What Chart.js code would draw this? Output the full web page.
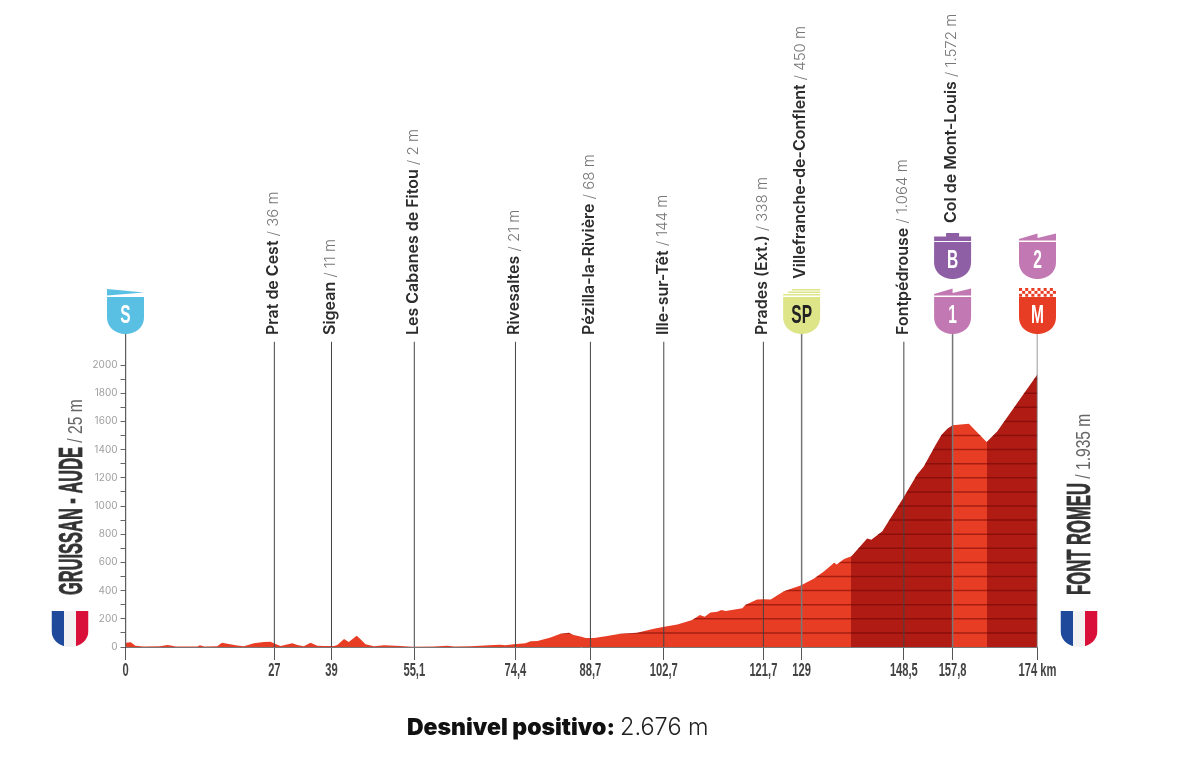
<!DOCTYPE html>
<html>
<head>
<meta charset="utf-8">
<title>Perfil de etapa</title>
<script src="https://cdn.jsdelivr.net/npm/chart.js@4"></script>
<style>
  html, body { margin: 0; background: #fff; }
  canvas { display: block; }
</style>
</head>
<body>
<canvas id="profileChart" width="1180" height="767"></canvas>
<script>
// Profile
const profileKm = [0, 1, 1.9, 3.5, 6.6, 8, 8.9, 9.6, 13.7, 14.2, 15, 17.5, 18.4, 19.7, 21.3, 22.6, 24.5, 26.4, 27.7, 28.6, 29.6, 31.8, 32.8, 34, 35.3, 36.6, 37.9, 39.8, 40.4, 41.7, 42.6, 44.1, 44.8, 45.8, 47.4, 49.3, 52.5, 54.7, 58.8, 61.4, 62.7, 65.8, 70.3, 71.5, 72.5, 74.1, 76.3, 77.3, 78.6, 81.1, 83, 84.6, 85.5, 86.8, 87.8, 89.4, 91.9, 94.4, 97.6, 100.8, 102.8, 105.3, 108.1, 109.6, 110.5, 111.6, 112.9, 113.7, 114.5, 117.7, 118.3, 120.5, 121.8, 123.1, 125.6, 128.8, 131.3, 133.3, 135.2, 135.7, 137.1, 138.5, 141.5, 142.3, 144.4, 146, 148.5, 151, 152.3, 154.5, 155.7, 156.8, 157.8, 160.9, 164.3, 166.3, 174];
const profileM = [30, 33, 9, 3, 6, 14, 8, 3, 4, 12, 4, 6, 30, 22, 10, 5, 26, 35, 38, 22, 7, 26, 14, 5, 30, 9, 7, 7, 14, 57, 36, 80, 57, 19, 5, 12, 7, 2, 3, 8, 3, 5, 14, 16, 12, 20, 26, 40, 42, 68, 94, 101, 85, 75, 64, 64, 78, 94, 101, 130, 144, 160, 191, 227, 215, 245, 250, 262, 255, 274, 300, 337, 338, 337, 396, 437, 484, 538, 597, 585, 625, 644, 769, 760, 821, 916, 1064, 1222, 1281, 1430, 1506, 1548, 1572, 1584, 1454, 1529, 1935];

// Steep stretches of the road
const steepFrom = [138.5, 164.3];
const steepTo = [157.8, 174];

// Stops along the route
const stopKm = [0, 28.4, 39.3, 55.1, 74.4, 88.7, 102.7, 121.7, 129, 148.5, 157.8, 174];
const stopTicks = ['0', '27', '39', '55,1', '74,4', '88,7', '102,7', '121,7', '129', '148,5', '157,8', '174 km'];
const stopNames = ['', 'Prat de Cest', 'Sigean', 'Les Cabanes de Fitou', 'Rivesaltes', 'Pézilla-la-Rivière', 'Ille-sur-Têt', 'Prades (Ext.)', 'Villefranche-de-Conflent', 'Fontpédrouse', 'Col de Mont-Louis', ''];
const stopHeights = ['', '36 m', '11 m', '2 m', '21 m', '68 m', '144 m', '338 m', '450 m', '1.064 m', '1.572 m', ''];
const stopBadges = [['S'], [], [], [], [], [], [], [], ['SP'], [], ['1', 'B'], ['M', '2']];

const startName = 'GRUISSAN - AUDE';
const startHeight = '25 m';
const finishName = 'FONT ROMEU';
const finishHeight = '1.935 m';
const climbLabel = 'Desnivel positivo:';
const climbValue = '2.676 m';

const RED = '#e83d25';
const DARK_RED = '#b01c14';
const NARROW = '"Liberation Sans", sans-serif';

// Hard colour stops across the x scale, so no seam shows between the stretches
function profileFill(context) {
  const { chart } = context;
  const x = chart.scales.x;
  if (!chart.chartArea || !x) return RED;
  const gradient = chart.ctx.createLinearGradient(x.left, 0, x.right, 0);
  gradient.addColorStop(0, RED);
  steepFrom.forEach((from, i) => {
    gradient.addColorStop(from / x.max, RED);
    gradient.addColorStop(from / x.max, DARK_RED);
    gradient.addColorStop(steepTo[i] / x.max, DARK_RED);
    if (steepTo[i] < x.max) gradient.addColorStop(steepTo[i] / x.max, RED);
  });
  return gradient;
}

// Text squeezed along its run, none of the fonts here are condensed
function squeezed(ctx, text, x, y, squeeze, outline) {
  ctx.save();
  ctx.translate(x, y);
  ctx.scale(squeeze, 1);
  ctx.fillText(text, 0, 0);
  if (outline) {
    ctx.strokeStyle = ctx.fillStyle;
    ctx.lineWidth = outline;
    ctx.strokeText(text, 0, 0);
  }
  ctx.restore();
  return ctx.measureText(text).width * squeeze;
}

function stopLabel(ctx, x, y, name, height) {
  ctx.save();
  ctx.translate(x, y);
  ctx.rotate(-Math.PI / 2);
  ctx.textBaseline = 'middle';
  ctx.textAlign = 'left';
  ctx.font = '600 16px Inter';
  ctx.fillStyle = '#2b2b2b';
  ctx.fillText(name, 0, 0);
  const w = ctx.measureText(name).width;
  ctx.font = '300 15px Inter';
  ctx.fillStyle = '#777';
  ctx.fillText(' / ' + height, w, 0);
  ctx.restore();
}

function sideLabel(ctx, x, y, name, nameLength, height) {
  ctx.save();
  ctx.translate(x, y);
  ctx.rotate(-Math.PI / 2);
  ctx.textBaseline = 'alphabetic';
  ctx.textAlign = 'left';
  ctx.font = 'bold 33px ' + NARROW;
  ctx.fillStyle = '#333';
  squeezed(ctx, name, 0, 0, nameLength / ctx.measureText(name).width, 0.8);
  ctx.font = '20px ' + NARROW;
  ctx.fillStyle = '#666';
  squeezed(ctx, ' / ' + height, nameLength, 0, 0.78);
  ctx.restore();
}

function shieldPath(ctx, cx, top, bottom) {
  const half = 18.5;
  const side = bottom - 17;
  ctx.beginPath();
  ctx.moveTo(cx - half, top);
  ctx.lineTo(cx + half, top);
  ctx.lineTo(cx + half, side);
  ctx.bezierCurveTo(cx + half, bottom - 5, cx + 8, bottom, cx, bottom);
  ctx.bezierCurveTo(cx - 8, bottom, cx - half, bottom - 5, cx - half, side);
  ctx.closePath();
}

function flag(ctx, cx, bottom) {
  const top = bottom - 36;
  ctx.save();
  shieldPath(ctx, cx, top, bottom);
  ctx.clip();
  ctx.fillStyle = '#1f4a9c';
  ctx.fillRect(cx - 18.5, top, 12.5, 36);
  ctx.fillStyle = '#f2f2f2';
  ctx.fillRect(cx - 6, top, 12, 36);
  ctx.fillStyle = '#d8103a';
  ctx.fillRect(cx + 6, top, 12.5, 36);
  ctx.restore();
}

const badgeColors = { S: '#59bfe3', SP: '#dde588', B: '#8f5fa5', 1: '#c279b3', 2: '#c279b3', M: RED };

function badge(ctx, cx, bottom, kind) {
  const color = badgeColors[kind];
  const top = bottom - 37;
  const L = cx - 18.5, R = cx + 18.5;
  ctx.fillStyle = color;
  shieldPath(ctx, cx, top, bottom);
  ctx.fill();

  if (kind === 'S') {
    ctx.beginPath();
    ctx.moveTo(L, bottom - 45);
    ctx.lineTo(R, bottom - 41.5);
    ctx.lineTo(L, bottom - 38.5);
    ctx.closePath();
    ctx.fill();
  } else if (kind === 'SP') {
    ctx.fillRect(L + 9, bottom - 45, 28, 1.5);
    ctx.fillRect(L + 5, bottom - 42.5, 32, 1.5);
    ctx.fillRect(L, bottom - 40, 37, 1.5);
  } else if (kind === 'B') {
    ctx.fillRect(cx - 6.5, bottom - 46, 13, 4);
    ctx.fillRect(L, bottom - 42.5, 37, 4.5);
  } else if (kind === 'M') {
    for (let row = 0; row < 3; row++) {
      for (let col = 0; col < 12; col++) {
        if ((row + col) % 2 === 0) ctx.fillRect(L + col * 3.08, bottom - 46 + row * 2.9, 3.08, 2.9);
      }
    }
  } else {
    ctx.beginPath();
    ctx.moveTo(L, bottom - 38.5);
    ctx.lineTo(L, bottom - 40);
    ctx.lineTo(cx, bottom - 45.5);
    ctx.lineTo(cx, bottom - 41);
    ctx.lineTo(R, bottom - 45.5);
    ctx.lineTo(R, bottom - 38.5);
    ctx.closePath();
    ctx.fill();
  }

  ctx.font = 'bold 25px ' + NARROW;
  ctx.fillStyle = kind === 'SP' ? '#222' : '#fff';
  ctx.textBaseline = 'middle';
  ctx.textAlign = 'center';
  squeezed(ctx, kind, cx, bottom - 18, 0.62);
}

// Darker height lines every 100 m, only inside the filled profile
const heightLines = {
  id: 'heightLines',
  afterDatasetDraw(chart, args) {
    if (args.index !== 0) return;
    const { ctx, scales: { x, y } } = chart;
    const points = args.meta.data;
    ctx.save();
    ctx.beginPath();
    ctx.moveTo(points[0].x, y.getPixelForValue(0));
    points.forEach(p => ctx.lineTo(p.x, p.y));
    ctx.lineTo(points[points.length - 1].x, y.getPixelForValue(0));
    ctx.closePath();
    ctx.clip();
    ctx.strokeStyle = 'rgba(100, 0, 0, 0.5)';
    ctx.lineWidth = 1.5;
    for (let m = 100; m <= 2000; m += 100) {
      ctx.beginPath();
      ctx.moveTo(x.left, y.getPixelForValue(m));
      ctx.lineTo(x.right, y.getPixelForValue(m));
      ctx.stroke();
    }
    ctx.restore();
  }
};

const decorations = {
  id: 'decorations',
  afterDraw(chart) {
    const { ctx, scales: { x } } = chart;
    ctx.save();

    // x tick labels come from the scale but are drawn condensed
    ctx.font = 'bold 18px ' + NARROW;
    ctx.fillStyle = '#444';
    ctx.textAlign = 'center';
    ctx.textBaseline = 'middle';
    x.ticks.forEach((tick, i) => {
      squeezed(ctx, tick.label, x.getPixelForTick(i), 671, 0.62);
    });

    stopKm.forEach((km, i) => {
      const px = x.getPixelForValue(km);
      const badges = stopBadges[i];
      badges.forEach((kind, row) => badge(ctx, px, 334 - row * 55, kind));
      if (stopNames[i]) stopLabel(ctx, px - 1, 335 - badges.length * 56, stopNames[i], stopHeights[i]);
    });
    sideLabel(ctx, 82, 595, startName, 148, startHeight);
    sideLabel(ctx, 1090, 595, finishName, 112, finishHeight);
    flag(ctx, 70, 647);
    flag(ctx, 1079, 647);

    ctx.textBaseline = 'alphabetic';
    ctx.textAlign = 'left';
    ctx.font = '900 23px Inter';
    ctx.fillStyle = '#111';
    ctx.fillText(climbLabel, 407, 735);
    ctx.font = '300 23.5px Inter';
    ctx.fillStyle = '#222';
    ctx.fillText(climbValue, 620, 735);
    ctx.restore();
  }
};

// One thin line per stop, taller where a badge sits on it
const stemDatasets = stopKm.map((km, i) => ({
  type: 'line',
  data: [{ x: km, y: 0 }, { x: km, y: stopBadges[i].length ? 2220 : 2165 }],
  borderColor: stopBadges[i].length ? '#777' : '#444',
  borderWidth: stopBadges[i].length ? 1.5 : 1,
  pointRadius: 0,
  fill: false,
  order: 0
}));

new Chart(document.getElementById('profileChart'), {
  type: 'line',
  data: {
    datasets: [{
      label: 'Altitud',
      data: profileKm.map((km, i) => ({ x: km, y: profileM[i] })),
      backgroundColor: profileFill,
      borderWidth: 0,
      pointRadius: 0,
      tension: 0,
      fill: 'origin',
      order: 1
    }, ...stemDatasets]
  },
  options: {
    responsive: false,
    animation: false,
    layout: { padding: { left: 75.5, right: 142.5, top: 334, bottom: 60 } },
    plugins: { legend: { display: false }, tooltip: { enabled: false } },
    scales: {
      x: {
        type: 'linear',
        min: 0,
        max: 174,
        afterFit: s => { s.height = 60; },
        afterBuildTicks: s => { s.ticks = stopKm.map(value => ({ value })); },
        border: { color: '#777', width: 1 },
        grid: { drawOnChartArea: false, color: '#555', tickLength: 13 },
        ticks: {
          display: false,
          autoSkip: false,
          maxRotation: 0,
          callback: value => stopTicks[stopKm.indexOf(value)]
        }
      },
      y: {
        min: 0,
        max: 2220,
        afterFit: s => { s.width = 50; },
        afterBuildTicks: s => {
          const ticks = [];
          for (let m = 0; m <= 2000; m += 100) ticks.push({ value: m });
          s.ticks = ticks;
        },
        border: { color: '#444', width: 1 },
        grid: { drawOnChartArea: false, color: '#666', tickLength: 5 },
        ticks: {
          autoSkip: false,
          padding: 3,
          color: '#a0a0a0',
          font: { family: 'Inter', size: 10 },
          callback: value => (value % 200 === 0 ? value : '')
        }
      }
    }
  },
  plugins: [heightLines, decorations]
});
</script>
</body>
</html>
